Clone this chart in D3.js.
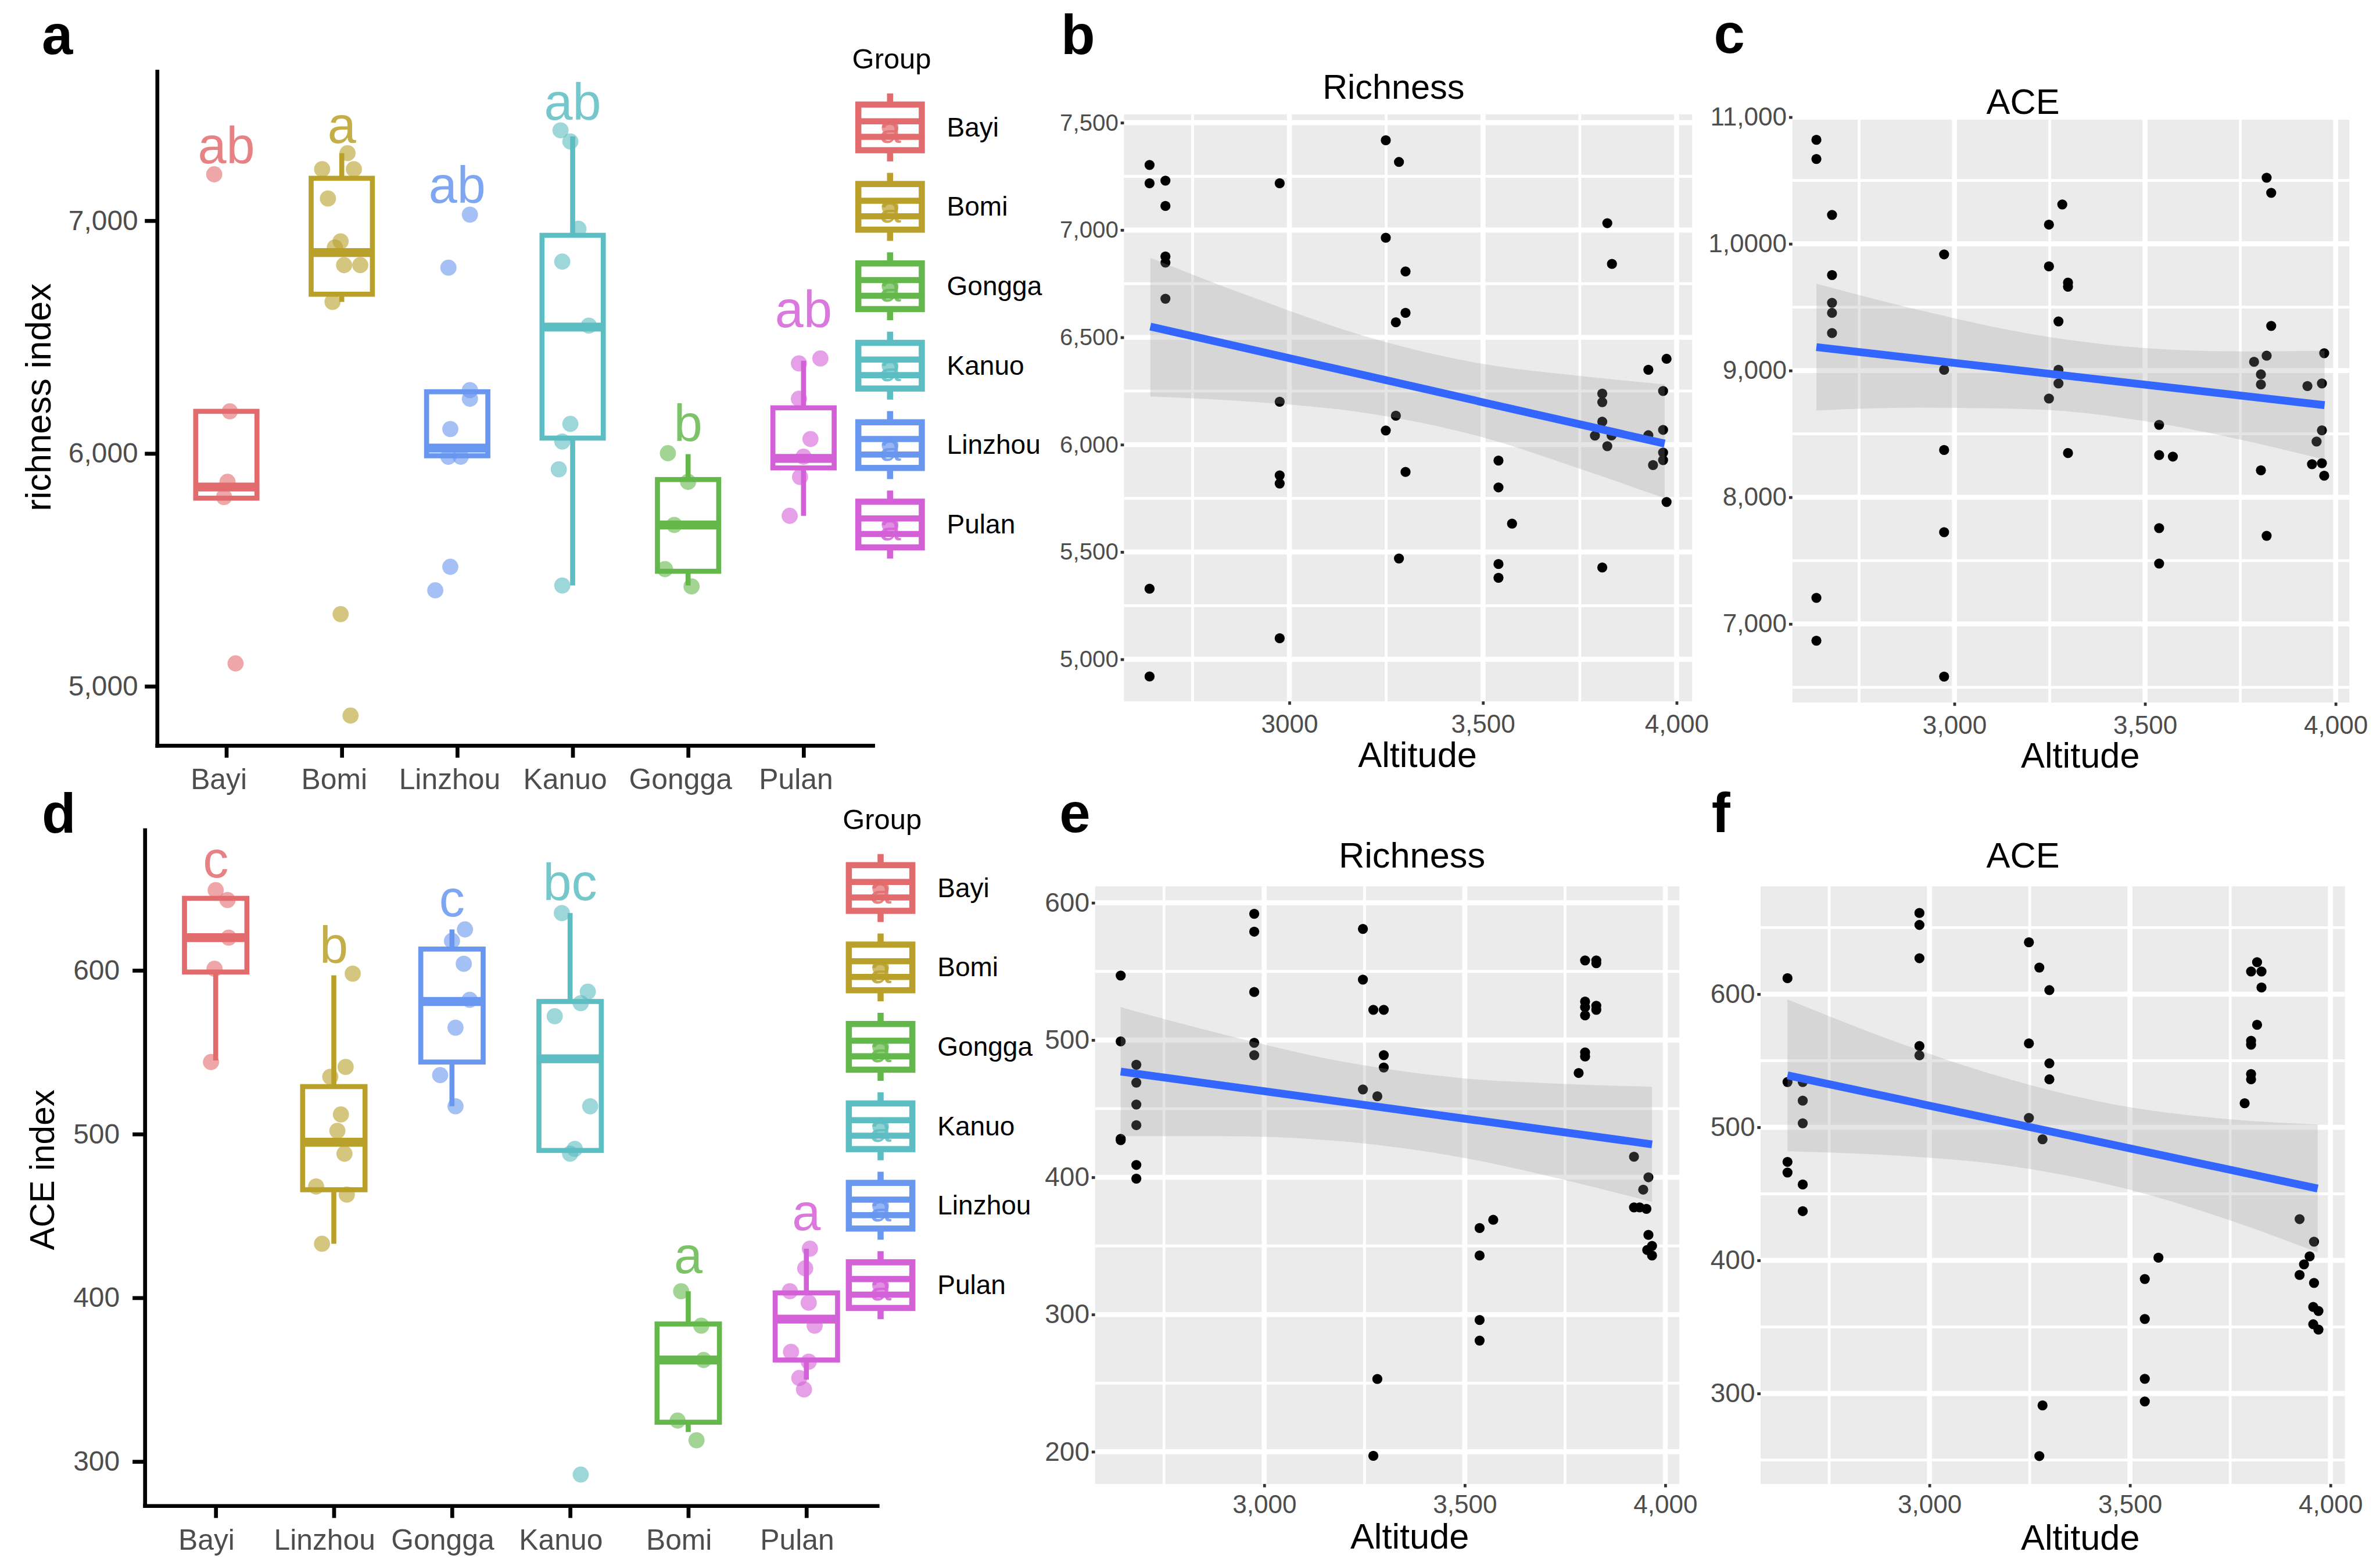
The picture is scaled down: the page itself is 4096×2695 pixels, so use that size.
<!DOCTYPE html>
<html><head><meta charset="utf-8">
<script src="https://cdn.jsdelivr.net/npm/d3@7"></script>
<style>body{margin:0;background:#fff} text{font-family:"Liberation Sans",Arial,Helvetica,sans-serif}</style>
</head><body>
<svg id="fig" width="4096" height="2695" viewBox="0 0 4273 2811"></svg>
<script>
// ---------------- DATA ----------------
// Panel a: richness index boxplots (x order as in figure)
const catsA = ["Bayi","Bomi","Linzhou","Kanuo","Gongga","Pulan"];
const colorsA = ["#E26B6E","#B9A02A","#6996EE","#5CBDC2","#64B84B","#D460D8"];
// [lower whisker, Q1, median, Q3, upper whisker]
const statsA = [
  [5808,5808,5856,6181,6181],
  [6651,6684,6863,7182,7290],
  [5990,5990,6023,6265,6265],
  [5433,6066,6543,6937,7362],
  [5433,5494,5693,5888,5997],
  [5732,5938,5979,6196,6398]
];
// jittered samples: [value, horizontal jitter in category steps]
const pointsA = [
  [[7199,-0.105],[6181,0.03],[5878,0.01],[5813,-0.02],[5098,0.08]],
  [[7290,0.05],[7221,-0.17],[7221,0.105],[7095,-0.12],[6911,-0.01],[6885,-0.06],[6809,0.02],[6809,0.16],[6651,-0.08],[5310,-0.01],[4874,0.076]],
  [[7026,0.11],[6798,-0.076],[6272,0.11],[6235,0.11],[6105,-0.06],[5986,-0.076],[5986,0.03],[5513,-0.06],[5412,-0.19]],
  [[7388,-0.105],[7340,-0.02],[6965,0.05],[6824,-0.09],[6549,0.14],[6127,-0.02],[6051,-0.09],[5932,-0.12],[5433,-0.09]],
  [[6001,-0.175],[5878,0],[5693,-0.12],[5503,-0.2],[5429,0.03]],
  [[6387,-0.04],[6408,0.146],[6235,-0.04],[6062,0.06],[5986,0],[5899,-0.03],[5732,-0.12]]
];
const lettersA = ["ab","a","ab","ab","b","ab"];
const letterPosA = [7246,7335,7077,7433,6053,6543];
const yTicksA = [5000,6000,7000];

// Panel d: ACE index boxplots
const catsD = ["Bayi","Linzhou","Gongga","Kanuo","Bomi","Pulan"];
const colorsD = ["#E26B6E","#B9A02A","#6996EE","#5CBDC2","#64B84B","#D460D8"];
const statsD = [
  [545,599,620,644,644],
  [433,466,495,529,597],
  [517,544,581,613,625],
  [490,490,546,581,635],
  [318,324,362,384,404],
  [350,362,387,403,430]
];
const pointsD = [
  [[649,0],[643,0.1],[620,0.11],[601,-0.01],[544,-0.04]],
  [[598,0.16],[541,0.1],[535,-0.03],[512,0.06],[502,0.03],[488,0.09],[468,-0.15],[463,0.11],[433,-0.1]],
  [[625,0.11],[618,0],[604,0.1],[582,0.15],[565,0.03],[536,-0.1],[517,0.03]],
  [[635,-0.07],[587,0.15],[580,0.09],[572,-0.13],[517,0.17],[491,0.04],[488,0],[292,0.09]],
  [[404,-0.06],[383,0.11],[362,0.13],[325,-0.09],[313,0.07]],
  [[430,0.03],[418,-0.01],[404,-0.14],[397,0.02],[383,0.07],[367,-0.13],[361,0.02],[351,-0.06],[344,-0.02]]
];
const lettersD = ["c","b","c","bc","a","a"];
const letterPosD = [656.6,604.6,633,642.8,415.1,441.2];
const yTicksD = [300,400,500,600];

// Legend (same for a and d)
const legendGroups = ["Bayi","Bomi","Gongga","Kanuo","Linzhou","Pulan"];
const legendColors = ["#E26B6E","#B9A02A","#64B84B","#5CBDC2","#6996EE","#D460D8"];

// Panel b: Richness vs Altitude  [altitude, richness]
const pointsB = [
  [2639,7303],[2639,7218],[2639,5329],[2639,4920],
  [2680,7230],[2680,7112],[2680,6877],[2680,6848],[2680,6680],
  [2975,7218],[2975,6200],[2975,5857],[2975,5819],[2975,5098],
  [3249,7418],[3249,6964],[3249,6066],
  [3283,7317],[3283,5470],
  [3300,6807],[3300,6614],[3300,5873],
  [3275,6570],[3275,6135],
  [3540,5926],[3540,5801],[3540,5444],[3540,5380],[3575,5632],
  [3808,6238],[3808,6198],[3808,6107],[3808,5428],
  [3821,7032],[3821,5993],[3833,6842],[3832,6043],[3789,6042],
  [3927,6349],[3927,6044],[3974,6400],[3974,5733],
  [3965,6250],[3965,6069],[3965,5963],[3965,5928],[3939,5905]
];
const fitB = [[2641,6550],[3969,6005]];
const bandB = [[2641,6225,6870],[2900,6200,6690],[3200,6147,6503],[3500,6034,6376],[3750,5888,6320],[3969,5751,6281]];

// Panel c: ACE vs Altitude
const pointsC = [
  [2638,10821],[2638,10670],[2638,7206],[2638,6868],
  [2679,10228],[2679,9754],[2679,9535],[2679,9455],[2679,9296],
  [2973,9917],[2973,9006],[2973,8373],[2973,7724],[2973,6585],
  [3248,10152],[3248,9822],[3248,8779],[3283,10311],
  [3273,9388],[3273,9006],[3273,8898],
  [3298,9694],[3298,9662],[3298,8349],
  [3537,8572],[3537,8333],[3537,7756],[3537,7477],[3573,8321],
  [3819,10522],[3819,9117],[3819,7696],[3831,10403],[3831,9352],
  [3786,9069],[3804,8970],[3804,8890],[3804,8213],
  [3970,9137],[3970,8170],[3964,8898],[3964,8528],[3964,8269],
  [3926,8878],[3950,8440],[3938,8261]
];
const fitC = [[2638,9185],[3971,8727]];
const bandC = [[2638,8685,9685],[2900,8707,9483],[3200,8695,9289],[3500,8601,9177],[3750,8455,9151],[3971,8297,9157]];

// Panel e: Richness vs Altitude (second row)
const pointsE = [
  [2642,547],[2642,499],[2642,428],[2642,427],
  [2681,482],[2681,469],[2681,453],[2681,438],[2681,409],[2681,399],
  [2975,592],[2975,579],[2975,535],[2975,498],[2975,489],
  [3246,581],[3246,544],[3246,464],
  [3272,522],[3298,522],[3298,489],[3298,480],[3282,459],[3282,253],[3272,197],
  [3537,363],[3537,343],[3537,296],[3537,281],[3571,369],
  [3800,558],[3800,528],[3800,524],[3800,518],[3800,491],[3800,488],
  [3828,558],[3828,556],[3828,525],[3828,522],[3784,476],
  [3922,415],[3922,378],[3936,378],[3945,391],[3953,377],[3958,400],[3958,358],[3967,350],[3967,343],[3955,347]
];
const fitE = [[2642,477],[3967,424]];
const bandE = [[2642,430,524],[2900,430,504],[3200,426,484],[3500,414,472],[3750,398,468],[3967,382,466]];

// Panel f: ACE vs Altitude (second row)
const pointsF = [
  [2646,612],[2646,534],[2646,474],[2646,466],
  [2684,534],[2684,520],[2684,503],[2684,457],[2684,437],
  [2975,661],[2975,652],[2975,627],[2975,561],[2975,554],
  [3248,639],[3248,563],[3248,507],
  [3274,620],[3282,291],[3274,253],
  [3299,603],[3299,548],[3299,536],[3282,491],
  [3537,386],[3537,356],[3537,311],[3537,294],[3571,402],
  [3817,624],[3817,577],[3802,617],[3802,565],[3802,562],[3802,540],[3802,536],
  [3828,617],[3828,605],[3786,518],
  [3923,431],[3923,389],[3959,414],[3959,383],[3934,397],[3948,403],[3957,365],[3957,352],[3970,362],[3970,348]
];
const fitF = [[2646,539],[3968,454]];
const bandF = [[2646,482,596],[2900,479,566],[3200,471,536],[3500,453,515],[3750,430,506],[3968,406,502]];

const altTicks = [3000,3500,4000];
const altMinor = [2750,3250,3750];

// ---------------- DRAWING ----------------
const svg = d3.select("#fig");
svg.append("rect").attr("width",4273).attr("height",2811).attr("fill","#fff");
const comma = d3.format(",");

function styleAxisText(sel, size, color) {
  sel.selectAll("text").attr("font-size", size).attr("fill", color)
     .attr("font-family", '"Liberation Sans",Arial,sans-serif');
}

function boxPanel(o) {
  const g = svg.append("g");
  const x = d3.scalePoint().domain(o.cats).range([o.left, o.right]).padding(0.6);
  const y = d3.scaleLinear().domain(o.yDomain).range([o.bottom, o.top]);
  const step = x.step();
  const hw = o.boxW / 2;
  o.cats.forEach((c, i) => {
    const s = o.stats[i], col = o.colors[i], cx = x(c);
    const bg = g.append("g");
    bg.append("line").attr("x1", cx).attr("x2", cx).attr("y1", y(s[0])).attr("y2", y(s[1]))
      .attr("stroke", col).attr("stroke-width", 9);
    bg.append("line").attr("x1", cx).attr("x2", cx).attr("y1", y(s[3])).attr("y2", y(s[4]))
      .attr("stroke", col).attr("stroke-width", 9);
    bg.append("rect").attr("x", cx - hw).attr("y", y(s[3])).attr("width", o.boxW)
      .attr("height", y(s[1]) - y(s[3])).attr("fill", "#fff").attr("stroke", col).attr("stroke-width", 9);
    bg.append("line").attr("x1", cx - hw).attr("x2", cx + hw).attr("y1", y(s[2])).attr("y2", y(s[2]))
      .attr("stroke", col).attr("stroke-width", 16);
  });
  o.cats.forEach((c, i) => {
    g.append("g").selectAll("circle").data(o.points[i]).join("circle")
      .attr("cx", d => x(c) + d[1] * step).attr("cy", d => y(d[0])).attr("r", 14.5)
      .attr("fill", o.colors[i]).attr("fill-opacity", 0.6);
    g.append("text").attr("x", x(c)).attr("y", y(o.letterPos[i])).attr("text-anchor", "middle")
      .attr("font-size", 92).attr("fill", o.colors[i]).attr("fill-opacity", 0.85).text(o.letters[i]);
  });
  // axes
  const ax = g.append("g").attr("transform", `translate(0,${o.bottom})`)
    .call(d3.axisBottom(x).tickSize(22).tickSizeOuter(0).tickPadding(20));
  ax.select(".domain").attr("stroke", "#000").attr("stroke-width", 7).attr("stroke-linecap", "square");
  ax.selectAll(".tick line").attr("stroke", "#000").attr("stroke-width", 7);
  styleAxisText(ax, 52, "#4D4D4D");
  ax.selectAll(".tick text").attr("dx", o.xdx);
  const ay = g.append("g").attr("transform", `translate(${o.left},0)`)
    .call(d3.axisLeft(y).tickValues(o.yTicks).tickFormat(comma).tickSize(22).tickSizeOuter(0).tickPadding(o.ypad));
  ay.select(".domain").attr("stroke", "#000").attr("stroke-width", 7).attr("stroke-linecap", "square");
  ay.selectAll(".tick line").attr("stroke", "#000").attr("stroke-width", 7);
  styleAxisText(ay, 50, "#4D4D4D");
  // y title
  g.append("text").attr("transform", `translate(${o.ytitleX},${o.ytitleY}) rotate(-90)`)
    .attr("text-anchor", "middle").attr("font-size", o.ytitleSize).attr("fill", "#000").text(o.ytitle);
  // legend
  const lg = g.append("g");
  lg.append("text").attr("x", o.legX - 68).attr("y", o.legY - 106).attr("font-size", 51).attr("fill", "#000").text("Group");
  legendGroups.forEach((name, i) => {
    const kx = o.legX, ky = o.legY + i * 142.6, col = legendColors[i];
    const k = lg.append("g");
    k.append("line").attr("x1", kx).attr("x2", kx).attr("y1", ky - 61).attr("y2", ky + 61)
      .attr("stroke", col).attr("stroke-width", 11);
    k.append("rect").attr("x", kx - 57).attr("y", ky - 41).attr("width", 114).attr("height", 82)
      .attr("fill", "#fff").attr("stroke", col).attr("stroke-width", 11);
    k.append("line").attr("x1", kx - 57).attr("x2", kx + 57).attr("y1", ky - 11).attr("y2", ky - 11)
      .attr("stroke", col).attr("stroke-width", 11);
    k.append("line").attr("x1", kx - 57).attr("x2", kx + 57).attr("y1", ky + 17).attr("y2", ky + 17)
      .attr("stroke", col).attr("stroke-width", 11);
    k.append("circle").attr("cx", kx).attr("cy", ky).attr("r", 15).attr("fill", col).attr("fill-opacity", 0.7);
    k.append("text").attr("x", kx).attr("y", ky + 28).attr("text-anchor", "middle").attr("font-size", 70)
      .attr("fill", col).attr("fill-opacity", 0.85).text("a");
    k.append("text").attr("x", o.legX + 102).attr("y", ky + 16).attr("font-size", 48).attr("fill", "#000").text(name);
  });
}

function scatterPanel(o) {
  const g = svg.append("g");
  const x = d3.scaleLinear().domain(o.xDomain).range([o.left, o.right]);
  const y = d3.scaleLinear().domain(o.yDomain).range([o.bottom, o.top]);
  g.append("rect").attr("x", o.left).attr("y", o.top).attr("width", o.right - o.left)
    .attr("height", o.bottom - o.top).attr("fill", "#EBEBEB");
  const grid = g.append("g").attr("stroke", "#fff");
  grid.selectAll(".ym").data(o.yMinor).join("line").attr("x1", o.left).attr("x2", o.right)
    .attr("y1", d => y(d)).attr("y2", d => y(d)).attr("stroke-width", 5);
  grid.selectAll(".xm").data(altMinor).join("line").attr("y1", o.top).attr("y2", o.bottom)
    .attr("x1", d => x(d)).attr("x2", d => x(d)).attr("stroke-width", 5);
  grid.selectAll(".yM").data(o.yTicks).join("line").attr("x1", o.left).attr("x2", o.right)
    .attr("y1", d => y(d)).attr("y2", d => y(d)).attr("stroke-width", 9);
  grid.selectAll(".xM").data(altTicks).join("line").attr("y1", o.top).attr("y2", o.bottom)
    .attr("x1", d => x(d)).attr("x2", d => x(d)).attr("stroke-width", 9);
  g.append("g").selectAll("circle").data(o.points).join("circle")
    .attr("cx", d => x(d[0])).attr("cy", d => y(d[1])).attr("r", 9).attr("fill", "#000");
  g.append("path").datum(o.band)
    .attr("d", d3.area().x(d => x(d[0])).y0(d => y(d[1])).y1(d => y(d[2])).curve(d3.curveMonotoneX))
    .attr("fill", "#999999").attr("fill-opacity", 0.25);
  g.append("path").datum(o.fit).attr("d", d3.line().x(d => x(d[0])).y(d => y(d[1])))
    .attr("stroke", "#3366FF").attr("stroke-width", 14).attr("fill", "none");
  const ay = g.append("g").attr("transform", `translate(${o.left},0)`)
    .call(d3.axisLeft(y).tickValues(o.yTicks).tickFormat(o.yFmt).tickSize(6).tickPadding(4));
  ay.select(".domain").remove();
  ay.selectAll(".tick line").attr("stroke", "#333").attr("stroke-width", 5);
  styleAxisText(ay, o.yFont, "#4D4D4D");
  const ax = g.append("g").attr("transform", `translate(0,${o.bottom})`)
    .call(d3.axisBottom(x).tickValues(altTicks).tickFormat(o.xFmt).tickSize(6).tickPadding(o.xpad));
  ax.select(".domain").remove();
  ax.selectAll(".tick line").attr("stroke", "#333").attr("stroke-width", 5);
  styleAxisText(ax, o.xFont, "#4D4D4D");
  g.append("text").attr("x", o.titleX).attr("y", o.titleY).attr("text-anchor", "middle")
    .attr("font-size", o.titleSize).attr("fill", "#000").text(o.title);
  g.append("text").attr("x", o.xlabX).attr("y", o.xlabY).attr("text-anchor", "middle")
    .attr("font-size", 64).attr("fill", "#000").text("Altitude");
}

boxPanel({cats: catsA, colors: colorsA, stats: statsA, points: pointsA, letters: lettersA, letterPos: letterPosA,
  left: 282, right: 1567, top: 128, bottom: 1338, yDomain: [4746, 7641], yTicks: yTicksA, boxW: 110,
  xdx: -14, ypad: 12, ytitle: "richness index", ytitleX: 91, ytitleY: 713, ytitleSize: 64,
  legX: 1598, legY: 228.5});
boxPanel({cats: catsD, colors: colorsD, stats: statsD, points: pointsD, letters: lettersD, letterPos: letterPosD,
  left: 260, right: 1575, top: 1490, bottom: 2703, yDomain: [273, 685.7], yTicks: yTicksD, boxW: 112,
  xdx: -17, ypad: 23, ytitle: "ACE index", ytitleX: 97, ytitleY: 2100, ytitleSize: 61,
  legX: 1581, legY: 1594});

scatterPanel({points: pointsB, fit: fitB, band: bandB, left: 2018, right: 3038, top: 205, bottom: 1259,
  xDomain: [2573, 4040], yDomain: [4804, 7539], yTicks: [5000,5500,6000,6500,7000,7500],
  yMinor: [5250,5750,6250,6750,7250], yFmt: comma, xFmt: d => d === 3000 ? "3000" : comma(d),
  yFont: 42, xFont: 46, xpad: 18, title: "Richness", titleX: 2502, titleY: 177, titleSize: 62, xlabX: 2545, xlabY: 1377});
scatterPanel({points: pointsC, fit: fitC, band: bandC, left: 3218, right: 4218, top: 206, bottom: 1261,
  xDomain: [2575, 4036], yDomain: [6380, 11018], yTicks: [7000,8000,9000,10000,11000],
  yMinor: [6500,7500,8500,9500,10500], yFmt: d => d === 10000 ? "1,0000" : comma(d), xFmt: comma,
  yFont: 46, xFont: 46, xpad: 18, title: "ACE", titleX: 3632, titleY: 204, titleSize: 64, xlabX: 3735, xlabY: 1378});
scatterPanel({points: pointsE, fit: fitE, band: bandE, left: 1966, right: 3015, top: 1591, bottom: 2664,
  xDomain: [2578, 4035], yDomain: [176.5, 612], yTicks: [200,300,400,500,600],
  yMinor: [250,350,450,550], yFmt: d3.format("d"), xFmt: comma,
  yFont: 48, xFont: 46, xpad: 14, title: "Richness", titleX: 2535, titleY: 1557, titleSize: 64, xlabX: 2531, xlabY: 2780});
scatterPanel({points: pointsF, fit: fitF, band: bandF, left: 3161, right: 4210, top: 1591, bottom: 2664,
  xDomain: [2579, 4036], yDomain: [232, 681], yTicks: [300,400,500,600],
  yMinor: [250,350,450,550,650], yFmt: d3.format("d"), xFmt: comma,
  yFont: 48, xFont: 46, xpad: 14, title: "ACE", titleX: 3632, titleY: 1557, titleSize: 64, xlabX: 3735, xlabY: 2782});

// panel letters
const panelLetters = [["a",75,97],["b",1905,97],["c",3077,95],["d",75,1495],["e",1902,1494],["f",3073,1494]];
svg.append("g").selectAll("text").data(panelLetters).join("text")
  .attr("x", d => d[1]).attr("y", d => d[2]).attr("font-size", 100).attr("font-weight", "bold")
  .attr("fill", "#000").text(d => d[0]);
</script>
</body></html>
